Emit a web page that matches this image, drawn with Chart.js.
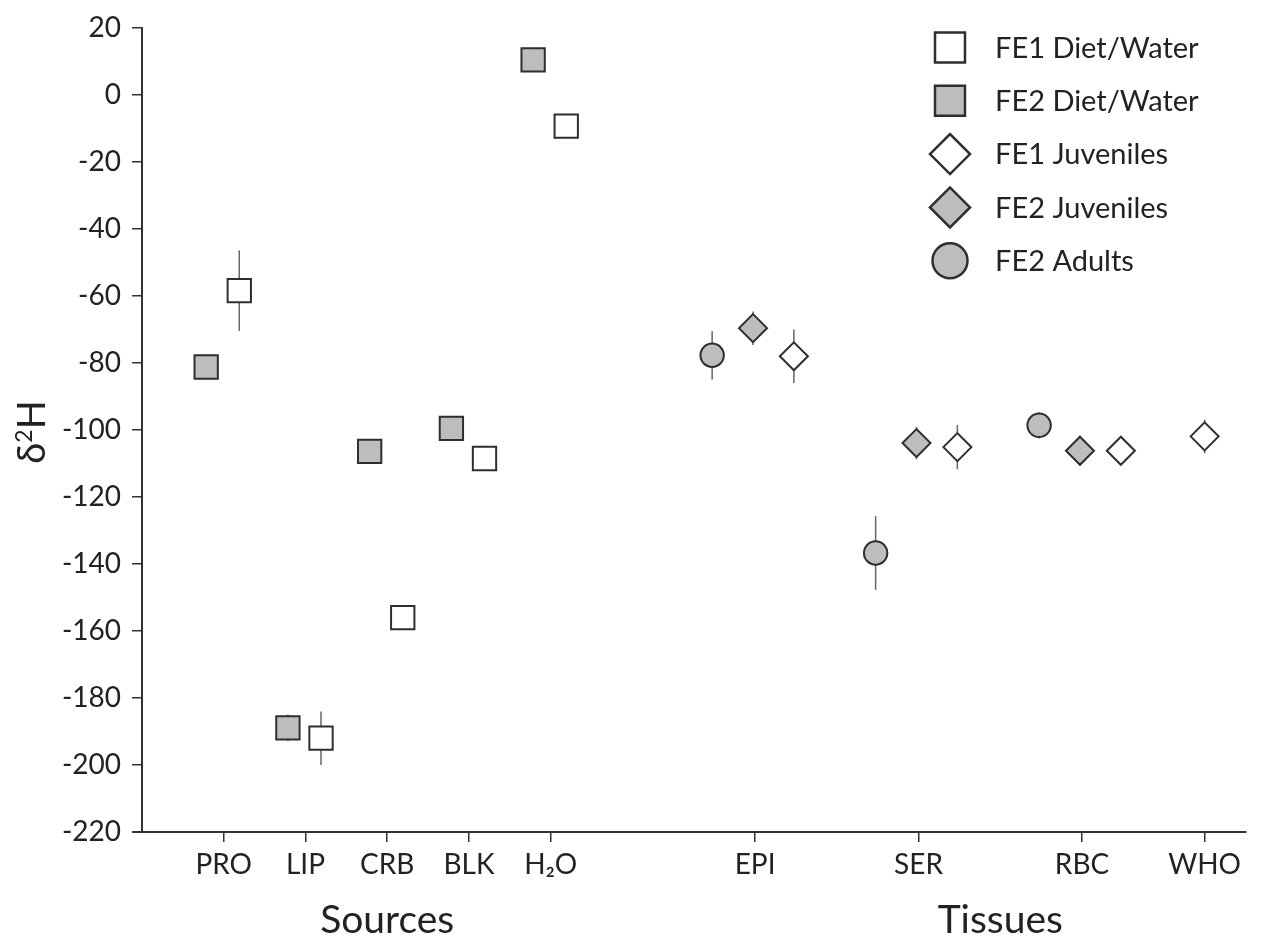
<!DOCTYPE html>
<html>
<head>
<meta charset="utf-8">
<script src="https://cdn.jsdelivr.net/npm/chart.js@4.4.0/dist/chart.umd.min.js"></script>
<style>
    html, body { margin: 0; padding: 0; background: #fff; }
    #wrap { width: 1264px; height: 943px; }
</style>
</head>
<body>
<div id="wrap"><canvas id="chart" width="1264" height="943"></canvas></div>
<script>
// Tick labels along the x axis and where they sit
const tickNames = ['PRO', 'LIP', 'CRB', 'BLK', 'H₂O', 'EPI', 'SER', 'RBC', 'WHO'];
const tickPos = [2, 4, 6, 8, 10, 15, 19, 23, 26];
const yTicks = [20, 0, -20, -40, -60, -80, -100, -120, -140, -160, -180, -200, -220];

// Sources (diet / water)
const sourceCats = ['PRO', 'LIP', 'CRB', 'BLK', 'H₂O'];
const fe1DietVals = [-58.4, -192, -156, -108.5, -9.3];
const fe1DietErr = [12, 8, 0, 0, 0];
const fe2DietVals = [-81.2, -188.9, -106.4, -99.5, 10.5];
const fe2DietErr = [0, 4, 0, 0, 0];

// Tissues
const fe1JuvCats = ['EPI', 'SER', 'RBC', 'WHO'];
const fe1JuvVals = [-78, -105.1, -106.2, -101.9];
const fe1JuvErr = [8, 6.6, 1.5, 5];
const fe2JuvCats = ['EPI', 'SER', 'RBC'];
const fe2JuvVals = [-69.6, -103.9, -106.2];
const fe2JuvErr = [5, 4.8, 4.5];
const fe2AdultCats = ['EPI', 'SER', 'RBC'];
const fe2AdultVals = [-77.7, -136.7, -98.6];
const fe2AdultErr = [7.2, 11, 3.9];

const FONT = 'Lato, "Open Sans", sans-serif';
const GREY = '#bdbdbd';
const EDGE = '#2e2e2e';

// side-by-side shift of each series around its tick
function place(cats, vals, shift) {
    return cats.map(function(c, i) {
        const x = tickPos[tickNames.indexOf(c)];
        return { x: x + (typeof shift === 'function' ? shift(c) : shift), y: vals[i] };
    });
}

const datasets = [
    {
        label: 'FE1 Diet/Water', data: place(sourceCats, fe1DietVals, 0.38), err: fe1DietErr,
        pointStyle: 'rect', pointRadius: 16.5, backgroundColor: '#fff', borderColor: EDGE, borderWidth: 2,
        legendRadius: 21.2
    },
    {
        label: 'FE2 Diet/Water', data: place(sourceCats, fe2DietVals, -0.43), err: fe2DietErr,
        pointStyle: 'rect', pointRadius: 16.5, backgroundColor: GREY, borderColor: EDGE, borderWidth: 2,
        legendRadius: 21.2
    },
    {
        label: 'FE1 Juveniles', data: place(fe1JuvCats, fe1JuvVals, function(c) { return c === 'WHO' ? 0 : 0.95; }), err: fe1JuvErr,
        pointStyle: 'rectRot', pointRadius: 14, backgroundColor: '#fff', borderColor: EDGE, borderWidth: 2,
        legendRadius: 20
    },
    {
        label: 'FE2 Juveniles', data: place(fe2JuvCats, fe2JuvVals, -0.05), err: fe2JuvErr,
        pointStyle: 'rectRot', pointRadius: 14, backgroundColor: GREY, borderColor: EDGE, borderWidth: 2,
        legendRadius: 20
    },
    {
        label: 'FE2 Adults', data: place(fe2AdultCats, fe2AdultVals, -1.05), err: fe2AdultErr,
        pointStyle: 'circle', pointRadius: 11.7, backgroundColor: GREY, borderColor: EDGE, borderWidth: 2,
        legendRadius: 17.5
    }
];

// vertical error bars, drawn under the markers
const errorBars = {
    id: 'errorBars',
    beforeDatasetsDraw: function(chart) {
        const ctx = chart.ctx;
        const y = chart.scales.y;
        ctx.save();
        ctx.strokeStyle = '#666';
        ctx.lineWidth = 1.5;
        chart.data.datasets.forEach(function(ds, i) {
            const meta = chart.getDatasetMeta(i);
            meta.data.forEach(function(pt, j) {
                const e = ds.err[j];
                if (!e) return;
                const v = ds.data[j].y;
                ctx.beginPath();
                ctx.moveTo(pt.x, y.getPixelForValue(v + e));
                ctx.lineTo(pt.x, y.getPixelForValue(v - e));
                ctx.stroke();
            });
        });
        ctx.restore();
    }
};

// "Sources" / "Tissues" under the axis, the rotated d2H title and the little axis stub
const axisTitles = {
    id: 'axisTitles',
    afterDraw: function(chart) {
        const ctx = chart.ctx;
        const x = chart.scales.x;
        const area = chart.chartArea;
        ctx.save();
        // x axis line runs a bit past the y axis in the original
        ctx.strokeStyle = '#333';
        ctx.lineWidth = 2;
        ctx.beginPath();
        ctx.moveTo(area.left - 10, area.bottom);
        ctx.lineTo(area.left, area.bottom);
        ctx.stroke();

        ctx.fillStyle = '#222';
        ctx.font = '39px ' + FONT;
        ctx.textAlign = 'center';
        ctx.textBaseline = 'alphabetic';
        ctx.fillText('Sources', x.getPixelForValue(6), 933);
        ctx.fillText('Tissues', x.getPixelForValue(21), 933);

        // y title with a raised 2
        const big = '38px ' + FONT, small = '23px ' + FONT;
        ctx.font = big;
        const wD = ctx.measureText('δ').width;
        const wH = ctx.measureText('H').width;
        ctx.font = small;
        const w2 = ctx.measureText('2').width;
        const total = wD + w2 + wH;
        ctx.translate(45, (area.top + area.bottom) / 2 + 2);
        ctx.rotate(-Math.PI / 2);
        ctx.textAlign = 'left';
        let cx = -total / 2;
        ctx.font = big;
        ctx.fillText('δ', cx, 0);
        cx += wD;
        ctx.font = small;
        ctx.fillText('2', cx, -13);
        cx += w2;
        ctx.font = big;
        ctx.fillText('H', cx, 0);
        ctx.restore();
    }
};

// legend stacked in the top right corner
const cornerLegend = {
    id: 'cornerLegend',
    afterDraw: function(chart) {
        const ctx = chart.ctx;
        ctx.save();
        ctx.font = '29px ' + FONT;
        ctx.textBaseline = 'middle';
        ctx.textAlign = 'left';
        chart.data.datasets.forEach(function(ds, i) {
            const yy = 47.5 + i * 53.3;
            ctx.fillStyle = ds.backgroundColor;
            ctx.strokeStyle = ds.borderColor;
            ctx.lineWidth = 2.5;
            Chart.helpers.drawPoint(ctx, { pointStyle: ds.pointStyle, radius: ds.legendRadius, borderWidth: 2.5, rotation: 0 }, 950, yy);
            ctx.fillStyle = '#222';
            ctx.fillText(ds.label, 995, yy + 1);
        });
        ctx.restore();
    }
};

const ctx = document.getElementById('chart').getContext('2d');
const chart = new Chart(ctx, {
    type: 'scatter',
    data: { datasets: datasets },
    options: {
        responsive: false,
        animation: false,
        layout: { padding: { top: 28, right: 12, left: 0, bottom: 0 } },
        plugins: {
            legend: { display: false },
            tooltip: { enabled: false }
        },
        scales: {
            x: {
                type: 'linear',
                min: 0,
                max: 27,
                afterBuildTicks: function(scale) {
                    scale.ticks = tickPos.map(function(v) { return { value: v }; });
                },
                afterFit: function(scale) { scale.height = 111; },
                grid: { drawOnChartArea: false, tickLength: 10, color: '#333', lineWidth: 1.5 },
                border: { color: '#333', width: 2 },
                ticks: {
                    autoSkip: false,
                    maxRotation: 0,
                    padding: 6,
                    color: '#222',
                    font: { family: FONT, size: 28 },
                    callback: function(v) { return tickNames[tickPos.indexOf(v)]; }
                }
            },
            y: {
                min: -220,
                max: 20,
                afterBuildTicks: function(scale) {
                    scale.ticks = yTicks.map(function(v) { return { value: v }; });
                },
                afterFit: function(scale) { scale.width = 142; },
                grid: { drawOnChartArea: false, tickLength: 10, color: '#333', lineWidth: 1.5 },
                border: { color: '#333', width: 2 },
                ticks: {
                    padding: 11,
                    color: '#222',
                    font: { family: FONT, size: 28 }
                }
            }
        }
    },
    plugins: [errorBars, axisTitles, cornerLegend]
});
</script>
</body>
</html>
